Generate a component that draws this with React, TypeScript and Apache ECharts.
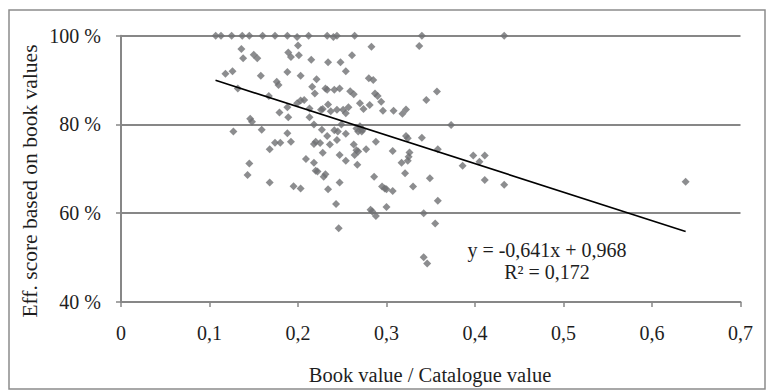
import React, { useEffect, useRef } from "react";
import * as echarts from "echarts";

// Book value / catalogue value ratio for each observation
const bookRatio: number[] = [
  0.107, 0.113, 0.125, 0.137, 0.145, 0.16, 0.174, 0.188, 0.199, 0.212, 0.233, 0.24, 0.244, 0.264, 0.34, 0.433,
  0.283, 0.337, 0.2, 0.136, 0.189, 0.15, 0.201, 0.192, 0.154, 0.138, 0.215, 0.261, 0.234, 0.248,
  0.254, 0.188, 0.126, 0.118, 0.158, 0.203, 0.221, 0.28, 0.285, 0.176, 0.178, 0.216, 0.132, 0.231,
  0.233, 0.241, 0.247, 0.259, 0.263, 0.357, 0.219, 0.287, 0.29, 0.167, 0.294, 0.345, 0.203, 0.207,
  0.199, 0.27, 0.281, 0.234, 0.188, 0.213, 0.228, 0.226, 0.237, 0.244, 0.251, 0.257, 0.254, 0.274,
  0.296, 0.308, 0.322, 0.318, 0.179, 0.213, 0.189, 0.146, 0.148, 0.218, 0.249, 0.27, 0.272, 0.268,
  0.273, 0.266, 0.373, 0.159, 0.127, 0.227, 0.241, 0.245, 0.254, 0.188, 0.233, 0.322, 0.34, 0.324,
  0.244, 0.288, 0.192, 0.174, 0.18, 0.218, 0.225, 0.22, 0.236, 0.263, 0.358, 0.168, 0.277, 0.266,
  0.268, 0.307, 0.326, 0.228, 0.247, 0.264, 0.398, 0.411, 0.325, 0.209, 0.254, 0.324, 0.317, 0.405,
  0.218, 0.145, 0.267, 0.386, 0.22, 0.222, 0.231, 0.229, 0.321, 0.286, 0.143, 0.411, 0.349, 0.638,
  0.168, 0.247, 0.433, 0.195, 0.203, 0.295, 0.298, 0.3, 0.307, 0.33, 0.234, 0.358, 0.243, 0.282,
  0.284, 0.3, 0.342, 0.288, 0.355, 0.246, 0.342, 0.346,
];

// Efficiency score (%) based on book values, same order as bookRatio
const effScore: number[] = [
  100, 100, 100, 100, 100, 100, 100, 100, 99.7, 100, 100, 99.7, 100, 100, 100, 100,
  97.5, 97.7, 97.8, 97.0, 96.2, 95.7, 95.6, 95.2, 94.9, 94.9, 94.6, 95.6, 94.0, 94.0,
  92.0, 91.8, 92.0, 91.4, 91.0, 91.0, 90.2, 90.4, 90.0, 89.6, 88.9, 88.5, 88.1, 88.1,
  87.8, 87.8, 88.1, 87.5, 86.8, 87.4, 87.0, 87.0, 86.4, 86.4, 85.1, 85.5, 85.4, 85.5,
  84.8, 84.8, 84.4, 84.5, 83.9, 83.6, 83.5, 83.3, 83.0, 83.3, 83.3, 83.9, 82.5, 83.5,
  83.1, 83.1, 83.4, 82.4, 82.7, 81.6, 81.6, 81.3, 80.6, 80.0, 80.0, 79.6, 78.4, 78.4,
  78.8, 79.1, 79.9, 78.8, 78.4, 78.8, 78.7, 78.4, 77.9, 78.0, 77.4, 77.4, 77.0, 76.9,
  76.5, 76.1, 76.1, 75.9, 75.9, 75.6, 75.8, 76.1, 75.5, 75.5, 74.4, 74.4, 74.4, 74.2,
  73.9, 74.0, 73.7, 73.6, 73.1, 73.1, 73.0, 73.0, 72.7, 72.2, 71.8, 71.8, 71.4, 71.6,
  71.4, 71.2, 70.9, 70.7, 69.6, 69.4, 68.8, 68.2, 69.0, 68.2, 68.6, 67.5, 67.9, 67.1,
  66.9, 66.9, 66.4, 66.1, 65.6, 66.0, 65.6, 65.4, 65.0, 66.0, 65.4, 62.8, 62.1, 60.8,
  60.4, 61.4, 60.0, 59.4, 57.7, 56.6, 50.1, 48.7,
];

// Linear trend: y = slope * x + intercept (score as a fraction)
const trendSlope = -0.641;
const trendIntercept = 0.968;
const trendRange: number[] = [0.1068, 0.638];
const rSquared = "0,172";

const xTicks = { min: 0, max: 0.7, step: 0.1 };
const yTicks = { min: 40, max: 100, step: 20 };

const FONT = '"Liberation Serif", "Times New Roman", serif';
const GRID_GREY = "#878787";
const TEXT = "#1e1e1e";

export default function App() {
  const ref = useRef<HTMLDivElement>(null);

  useEffect(() => {
    if (!ref.current) return;
    const chart = echarts.init(ref.current, undefined, { renderer: "svg" });

    const points = bookRatio.map((x, i) => [x, effScore[i]]);
    const trend = trendRange.map((x) => [x, (trendSlope * x + trendIntercept) * 100]);
    const comma = (v: number) => String(v).replace(".", ",");

    chart.setOption({
      animation: false,
      backgroundColor: "#ffffff",
      textStyle: { fontFamily: FONT },
      grid: { left: 121, right: 27.5, top: 35.7, bottom: 89, containLabel: false },
      xAxis: {
        type: "value",
        min: xTicks.min,
        max: xTicks.max,
        interval: xTicks.step,
        axisLine: { show: true, lineStyle: { color: GRID_GREY, width: 2 } },
        axisTick: { show: true, length: 5, lineStyle: { color: GRID_GREY, width: 1.5 } },
        splitLine: { show: false },
        axisLabel: {
          margin: 21,
          fontSize: 20,
          color: TEXT,
          fontFamily: FONT,
          formatter: (v: number) => comma(Math.round(v * 10) / 10),
        },
      },
      yAxis: {
        type: "value",
        min: yTicks.min,
        max: yTicks.max,
        interval: yTicks.step,
        axisLine: { show: true, lineStyle: { color: GRID_GREY, width: 2 } },
        axisTick: { show: true, length: 5, lineStyle: { color: GRID_GREY, width: 1.5 } },
        splitLine: { show: true, lineStyle: { color: GRID_GREY, width: 2 } },
        axisLabel: {
          margin: 20,
          fontSize: 20,
          color: TEXT,
          fontFamily: FONT,
          formatter: (v: number) => `${v} %`,
        },
      },
      series: [
        {
          type: "scatter",
          data: points,
          symbol: "diamond",
          symbolSize: 8,
          itemStyle: { color: "#6f7073" },
          z: 3,
        },
        {
          type: "line",
          data: trend,
          symbol: "none",
          lineStyle: { color: "#000000", width: 1.6 },
          z: 4,
        },
      ],
      graphic: [
        {
          type: "rect",
          shape: { x: 9, y: 10, width: 756, height: 379 },
          style: { fill: "none", stroke: "#8c8c8c", lineWidth: 1.5 },
          silent: true,
        },
        {
          type: "text",
          x: 30,
          y: 181,
          rotation: Math.PI / 2,
          style: {
            text: "Eff. score based on book values",
            fontFamily: FONT,
            fontSize: 21.5,
            fill: TEXT,
            textAlign: "center",
            textVerticalAlign: "middle",
          },
        },
        {
          type: "text",
          x: 430,
          y: 375,
          style: {
            text: "Book value / Catalogue value",
            fontFamily: FONT,
            fontSize: 20.5,
            fill: TEXT,
            textAlign: "center",
            textVerticalAlign: "middle",
          },
        },
        {
          type: "text",
          x: 547,
          y: 250,
          style: {
            text: `y = ${comma(trendSlope)}x + ${comma(trendIntercept)}`,
            fontFamily: FONT,
            fontSize: 20,
            fill: TEXT,
            textAlign: "center",
            textVerticalAlign: "middle",
          },
        },
        {
          type: "text",
          x: 547,
          y: 272,
          style: {
            text: `R² = ${rSquared}`,
            fontFamily: FONT,
            fontSize: 20,
            fill: TEXT,
            textAlign: "center",
            textVerticalAlign: "middle",
          },
        },
      ],
    });

    return () => chart.dispose();
  }, []);

  return (
    <div
      ref={ref}
      style={{ position: "fixed", left: 0, top: 0, width: 768, height: 391 }}
    />
  );
}
